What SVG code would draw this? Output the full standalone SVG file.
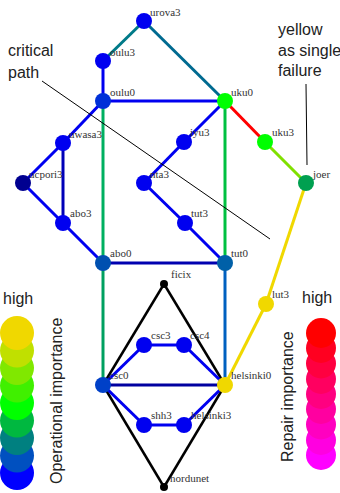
<svg xmlns="http://www.w3.org/2000/svg" width="340" height="493" viewBox="0 0 340 493">
<style>
.e{stroke-width:3;fill:none}
.b{stroke:#0000f0}
.k{stroke:#000;stroke-width:2.5}
.l{font-family:"Liberation Serif",serif;font-size:11px;fill:#333}
.a{font-family:"Liberation Sans",Arial,sans-serif;font-size:16px;fill:#222}
.n{fill:#0000f0}
</style>
<rect width="340" height="493" fill="#fff"/>
<g id="connectors">
<line class="e" x1="144" y1="21" x2="103" y2="61" stroke="#007a88"/>
<line class="e" x1="144" y1="21" x2="225" y2="101" stroke="#006a90"/>
<line class="e b" x1="103" y1="61" x2="103" y2="101"/>
<line class="e b" x1="103" y1="101" x2="225" y2="101"/>
<line class="e b" x1="103" y1="101" x2="63" y2="143"/>
<line class="e" x1="103" y1="101" x2="103" y2="263" stroke="#00b060"/>
<line class="e b" x1="63" y1="143" x2="23" y2="183"/>
<line class="e" x1="63" y1="143" x2="63" y2="223" stroke="#0000b8"/>
<line class="e b" x1="23" y1="183" x2="63" y2="223"/>
<line class="e b" x1="63" y1="223" x2="103" y2="263"/>
<line class="e" x1="103" y1="263" x2="225" y2="263" stroke="#0000b0"/>
<line class="e b" x1="225" y1="101" x2="184" y2="142"/>
<line class="e b" x1="184" y1="142" x2="144" y2="183"/>
<line class="e b" x1="144" y1="183" x2="185" y2="223"/>
<line class="e b" x1="185" y1="223" x2="225" y2="263"/>
<line class="e" x1="225" y1="101" x2="225" y2="263" stroke="#00c040"/>
<line class="e" x1="225" y1="101" x2="265" y2="142" stroke="#ff0000"/>
<line class="e" x1="265" y1="142" x2="306" y2="183" stroke="#80e000"/>
<line class="e" x1="306" y1="183" x2="266" y2="304" stroke="#f0d800"/>
<line class="e" x1="266" y1="304" x2="225" y2="385" stroke="#f0d800"/>
<line class="e" x1="103" y1="263" x2="103" y2="385" stroke="#00a060"/>
<line class="e" x1="225" y1="263" x2="225" y2="385" stroke="#0060c0"/>
<line class="e k" x1="164" y1="284" x2="103" y2="385"/>
<line class="e k" x1="164" y1="284" x2="225" y2="385"/>
<line class="e k" x1="164" y1="487" x2="103" y2="385"/>
<line class="e k" x1="164" y1="487" x2="225" y2="385"/>
<line class="e b" x1="103" y1="385" x2="144" y2="345"/>
<line class="e b" x1="144" y1="345" x2="184" y2="345"/>
<line class="e b" x1="184" y1="345" x2="225" y2="385"/>
<line class="e" x1="103" y1="385" x2="225" y2="385" stroke="#0000a0"/>
<line class="e b" x1="103" y1="385" x2="144" y2="425"/>
<line class="e b" x1="144" y1="425" x2="184" y2="425"/>
<line class="e b" x1="184" y1="425" x2="225" y2="385"/>
</g>
<g id="urova3"><text class="l" x="150" y="16">urova3</text><circle cx="144" cy="21" r="8" class="n"/></g>
<g id="oulu3"><text class="l" x="110" y="56">oulu3</text><circle cx="103" cy="61" r="8" class="n"/></g>
<g id="oulu0"><text class="l" x="110" y="96">oulu0</text><circle cx="103" cy="101" r="8" fill="#0030d8"/></g>
<g id="uku0"><text class="l" x="231" y="96">uku0</text><circle cx="225" cy="101" r="8" fill="#00ff00"/></g>
<g id="uku3"><text class="l" x="272" y="136">uku3</text><circle cx="265" cy="142" r="8" fill="#00ff00"/></g>
<g id="joer"><text class="l" x="313" y="178">joer</text><circle cx="306" cy="183" r="8" fill="#00a050"/></g>
<g id="uwasa3"><text class="l" x="69" y="138">uwasa3</text><circle cx="63" cy="143" r="8" class="n"/></g>
<g id="ucpori3"><text class="l" x="29" y="178">ucpori3</text><circle cx="23" cy="183" r="8" fill="#000090"/></g>
<g id="abo3"><text class="l" x="70" y="217">abo3</text><circle cx="63" cy="223" r="8" class="n"/></g>
<g id="iyu3"><text class="l" x="190" y="136">iyu3</text><circle cx="184" cy="142" r="8" class="n"/></g>
<g id="nta3"><text class="l" x="150" y="178">nta3</text><circle cx="144" cy="183" r="8" class="n"/></g>
<g id="tut3"><text class="l" x="191" y="217">tut3</text><circle cx="185" cy="223" r="8" class="n"/></g>
<g id="abo0"><text class="l" x="110" y="257">abo0</text><circle cx="103" cy="263" r="8" fill="#0050b0"/></g>
<g id="tut0"><text class="l" x="231" y="257">tut0</text><circle cx="225" cy="263" r="8" fill="#0060a8"/></g>
<g id="ficix"><text class="l" x="171" y="278">ficix</text><circle cx="164" cy="284" r="4" fill="#000"/></g>
<g id="lut3"><text class="l" x="272" y="298">lut3</text><circle cx="266" cy="304" r="8" fill="#f0d800"/></g>
<g id="csc3"><text class="l" x="151" y="339">csc3</text><circle cx="144" cy="345" r="8" class="n"/></g>
<g id="csc4"><text class="l" x="190" y="339">csc4</text><circle cx="184" cy="345" r="8" class="n"/></g>
<g id="csc0"><text class="l" x="109" y="379">csc0</text><circle cx="103" cy="385" r="8" fill="#0040c8"/></g>
<g id="helsinki0"><text class="l" x="231" y="379">helsinki0</text><circle cx="225" cy="385" r="8" fill="#f0d800"/></g>
<g id="shh3"><text class="l" x="151" y="419">shh3</text><circle cx="144" cy="425" r="8" class="n"/></g>
<g id="helsinki3"><text class="l" x="191" y="419">helsinki3</text><circle cx="184" cy="425" r="8" class="n"/></g>
<g id="nordunet"><text class="l" x="170" y="482">nordunet</text><circle cx="164" cy="487" r="4" fill="#000"/></g>
<g id="annotations">
<text class="a" x="8" y="56">critical</text>
<text class="a" x="8" y="78">path</text>
<line x1="42" y1="81" x2="270" y2="239" stroke="#000" stroke-width="1"/>
<text class="a" x="278" y="35">yellow</text>
<text class="a" x="278" y="56">as single</text>
<text class="a" x="278" y="76">failure</text>
<line x1="306" y1="84" x2="307" y2="165" stroke="#000" stroke-width="1"/>
</g>
<g id="legend-operational">
<text class="a" x="3" y="304">high</text>
<circle cx="17" cy="473" r="17" fill="#0000ff"/>
<circle cx="17" cy="455.5" r="17" fill="#0050c0"/>
<circle cx="17" cy="438" r="17" fill="#008080"/>
<circle cx="17" cy="420.5" r="17" fill="#00b840"/>
<circle cx="17" cy="403" r="17" fill="#00ff00"/>
<circle cx="17" cy="385.5" r="17" fill="#40f000"/>
<circle cx="17" cy="368" r="17" fill="#80e800"/>
<circle cx="17" cy="350.5" r="17" fill="#c0e000"/>
<circle cx="17" cy="333" r="17" fill="#f0d800"/>
<text class="a" transform="translate(62,484) rotate(-90)">Operational importance</text>
</g>
<g id="legend-repair">
<text class="a" x="302" y="303">high</text>
<circle cx="321" cy="455" r="15" fill="#ff00ff"/>
<circle cx="321" cy="440" r="15" fill="#ff00e0"/>
<circle cx="321" cy="424.5" r="15" fill="#ff00c0"/>
<circle cx="321" cy="409" r="15" fill="#ff00a0"/>
<circle cx="321" cy="394" r="15" fill="#ff0080"/>
<circle cx="321" cy="379" r="15" fill="#ff0060"/>
<circle cx="321" cy="363.5" r="15" fill="#ff0040"/>
<circle cx="321" cy="348" r="15" fill="#ff0020"/>
<circle cx="321" cy="333" r="15" fill="#ff0000"/>
<text class="a" transform="translate(293,462) rotate(-90)">Repair importance</text>
</g>
</svg>
